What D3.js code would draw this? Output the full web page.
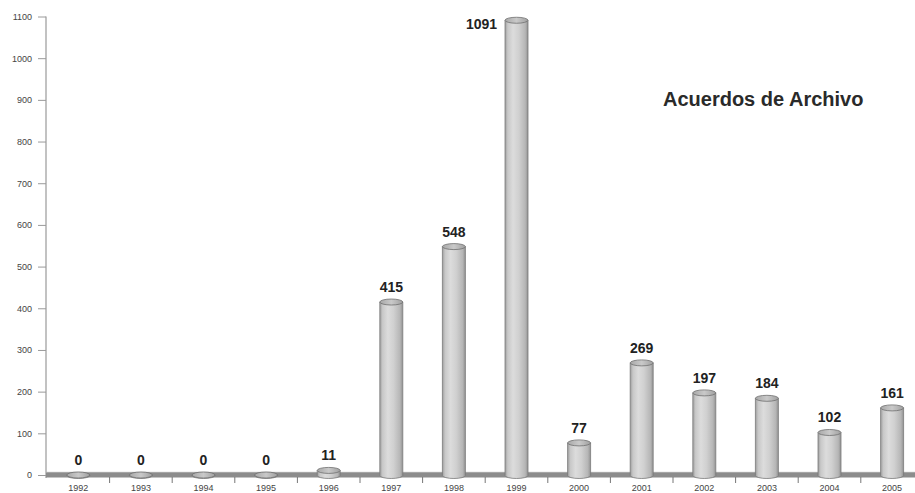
<!DOCTYPE html>
<html>
<head>
<meta charset="utf-8">
<script src="https://cdn.jsdelivr.net/npm/d3@7"></script>
<style>
  html, body { margin: 0; padding: 0; background: #fff; }
  svg { display: block; }
</style>
</head>
<body>
<svg id="chart" width="915" height="493"></svg>
<script>
// Acuerdos de Archivo per year
const years = ["1992","1993","1994","1995","1996","1997","1998","1999","2000","2001","2002","2003","2004","2005"];
const acuerdos = [0, 0, 0, 0, 11, 415, 548, 1091, 77, 269, 197, 184, 102, 161];
const yTicks = [0, 100, 200, 300, 400, 500, 600, 700, 800, 900, 1000, 1100];
const title = "Acuerdos de Archivo";

const W = 915, H = 493;
const svg = d3.select("#chart");
const font = "'Liberation Sans', Arial, sans-serif";

const x = d3.scaleBand().domain(years).range([47, 923.4]).padding(0);
const y = d3.scaleLinear().domain([0, 1100]).range([475, 16.5]);

const defs = svg.append("defs");
const grad = defs.append("linearGradient").attr("id", "cyl").attr("x1", "0").attr("x2", "1").attr("y1", "0").attr("y2", "0");
[[0, "#9e9e9e"], [0.12, "#c8c8c8"], [0.35, "#dcdcdc"], [0.6, "#d0d0d0"], [0.88, "#b6b6b6"], [1, "#929292"]]
  .forEach(([o, c]) => grad.append("stop").attr("offset", o).attr("stop-color", c));
const capGrad = defs.append("linearGradient").attr("id", "cap").attr("x1", "0").attr("x2", "1");
[[0, "#a8a8a8"], [0.5, "#c9c9c9"], [1, "#a0a0a0"]]
  .forEach(([o, c]) => capGrad.append("stop").attr("offset", o).attr("stop-color", c));

// Y axis
const yAxis = d3.axisLeft(y).tickValues(yTicks).tickFormat(d3.format("d")).tickSize(8).tickPadding(6);
const gy = svg.append("g").attr("transform", "translate(46,0)").call(yAxis);
gy.select(".domain").attr("stroke", "#a8a8a8").attr("stroke-width", 1.4).attr("d", `M0,${y(1100)}V478`);
gy.selectAll(".tick line").attr("stroke", "#9a9a9a");
gy.selectAll(".tick text").attr("fill", "#444").attr("font-family", font).attr("font-size", 9);

// Floor band
svg.append("rect").attr("x", 46).attr("y", 472).attr("width", W - 46).attr("height", 5.5).attr("fill", "#8c8c8c");
svg.append("line").attr("x1", 46).attr("x2", W).attr("y1", 472.3).attr("y2", 472.3).attr("stroke", "#b5b5b5").attr("stroke-width", 0.8);

// X axis: boundary ticks and year labels
const xAxis = d3.axisBottom(x).tickSize(0).tickPadding(7);
const gx = svg.append("g").attr("transform", "translate(0,477.5)").call(xAxis);
gx.select(".domain").remove();
gx.selectAll(".tick text").attr("fill", "#444").attr("font-family", font).attr("font-size", 9);
svg.append("g").selectAll("line").data(years.slice(1)).join("line")
  .attr("x1", d => x(d)).attr("x2", d => x(d))
  .attr("y1", 477).attr("y2", 483).attr("stroke", "#777").attr("stroke-width", 1);

// Cylinders
const bw = 23, ry = 3;
const bars = svg.append("g").selectAll("g").data(years.map((yr, i) => ({ yr, v: acuerdos[i] }))).join("g")
  .attr("transform", d => `translate(${x(d.yr) + x.bandwidth() / 2},0)`);

bars.append("path")
  .attr("d", d => {
    const top = y(d.v), bot = 475.5;
    return `M${-bw / 2},${top}V${bot}A${bw / 2},${ry} 0 0 0 ${bw / 2},${bot}V${top}Z`;
  })
  .attr("fill", "url(#cyl)").attr("stroke", "#7a7a7a").attr("stroke-width", 0.8);
bars.append("ellipse")
  .attr("cx", 0).attr("cy", d => y(d.v)).attr("rx", bw / 2).attr("ry", ry)
  .attr("fill", "url(#cap)").attr("stroke", "#707070").attr("stroke-width", 0.8);

// Value labels
bars.append("text")
  .attr("x", d => d.v > 1000 ? -35 : 0)
  .attr("y", d => d.v > 1000 ? y(d.v) + 9 : y(d.v) - 10)
  .attr("text-anchor", "middle")
  .attr("font-family", font).attr("font-weight", "bold").attr("font-size", 14)
  .attr("fill", "#222")
  .text(d => d.v);

// Title
svg.append("text").attr("x", 663).attr("y", 106)
  .attr("font-family", font).attr("font-weight", "bold").attr("font-size", 20)
  .attr("fill", "#2a2a2a").text(title);
</script>
</body>
</html>
